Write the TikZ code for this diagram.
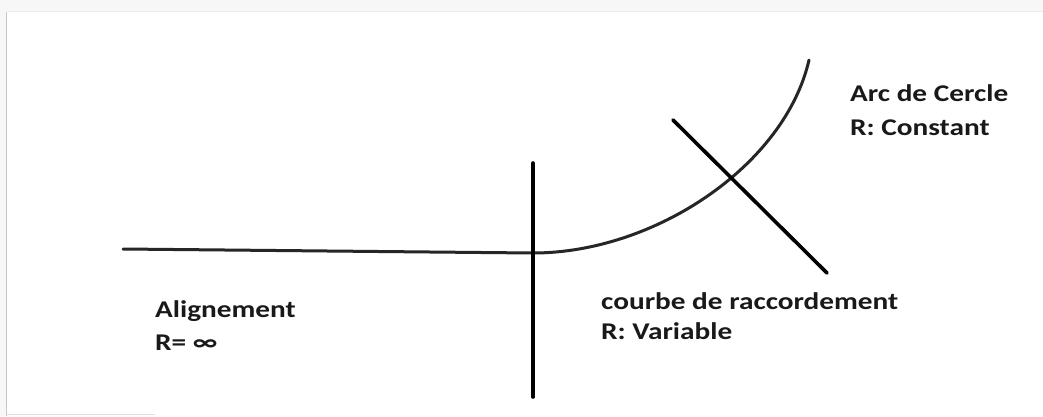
\documentclass[tikz,border=0pt]{standalone}
\usepackage{fontspec}
\setmainfont{Carlito}
\newfontfamily\lblfont[FakeStretch=1.22]{Carlito}
\begin{document}
\begin{tikzpicture}[x=1pt,y=-1pt,
  lbl/.style={font=\lblfont\bfseries\fontsize{24}{34}\selectfont, anchor=base west, inner sep=0pt, align=left, text=black!90},
  thin line/.style={line width=3pt, black!85, line cap=round},
  thick line/.style={line width=3.6pt, black, line cap=round}]
\useasboundingbox (0,0) rectangle (1043,416);
% screenshot frame
\fill[black!3] (0,0) rectangle (1043,416);
\fill[white] (7,12) rectangle (1043,416);
\draw[black!22, line width=1.5pt] (6.5,12) -- (6.5,416);
\draw[black!8, line width=1pt] (7,11.5) -- (1043,11.5);
\draw[black!12, line width=1pt] (7,414.5) -- (155,414.5);
% geometry
\coordinate (a0) at (123,249);
\coordinate (t1) at (533,253);
\coordinate (e) at (809,60);
\coordinate (v1) at (533,163);
\coordinate (v2) at (533,397);
\coordinate (d1) at (673,120);
\coordinate (d2) at (827,273);
\draw[thin line] (a0) -- (t1);
\draw[thin line] (t1) .. controls (655,253) and (785,165) .. (e);
\draw[thick line] (v1) -- (v2);
\draw[thick line] (d1) -- (d2);
% labels
\node[lbl] (arc) at (850,101) {Arc de Cercle};
\node[lbl] (arcR) at (850,135) {R: Constant};
\node[lbl] (crb) at (601,309) {courbe de raccordement};
\node[lbl] (crbR) at (601,339) {R: Variable};
\node[lbl] (ali) at (155,317) {Alignement};
\node[lbl] (aliR) at (155,350) {R= ∞};
\end{tikzpicture}
\end{document}
